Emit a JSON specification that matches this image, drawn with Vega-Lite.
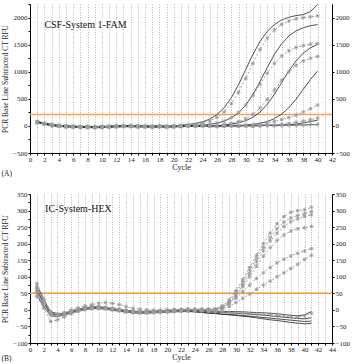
{
"$schema": "https://vega.github.io/schema/vega-lite/v6.json",
"padding": {"left": 1, "top": 0, "right": 0, "bottom": 0},
"spacing": 12,
"config": {
  "font": "Liberation Serif",
  "view": {"stroke": null},
  "axis": {"labelFont": "Liberation Serif", "titleFont": "Liberation Serif", "labelFontSize": 7, "titleFontSize": 8, "titleFontWeight": "normal", "labelColor": "#222", "titleColor": "#222", "domainColor": "#000", "tickColor": "#000", "tickSize": 2, "labelPadding": 1, "gridColor": "#9a9a9a", "gridDash": [1, 1.5], "gridWidth": 0.7, "labelOverlap": false, "labelFlush": false},
  "axisX": {"labelPadding": 0, "titlePadding": 1}
},
"datasets": {
"A": [
{"c":1,"a1":80,"a2":65,"a3":75,"a4":70,"a5":60,"a6":85,"a7":65,"a8":75,"a9":60,"a10":70,"a11":78,"a12":67},
{"c":2,"a1":50,"a2":35,"a3":45,"a4":40,"a5":30,"a6":55,"a7":35,"a8":45,"a9":30,"a10":40,"a11":48,"a12":37},
{"c":3,"a1":25,"a2":10,"a3":20,"a4":15,"a5":5,"a6":30,"a7":10,"a8":20,"a9":5,"a10":15,"a11":23,"a12":12},
{"c":4,"a1":10,"a2":-5,"a3":5,"a4":0,"a5":-10,"a6":15,"a7":-5,"a8":5,"a9":-10,"a10":0,"a11":8,"a12":-3},
{"c":5,"a1":0,"a2":-15,"a3":-5,"a4":-10,"a5":-20,"a6":5,"a7":-15,"a8":-5,"a9":-20,"a10":-10,"a11":-2,"a12":-13},
{"c":6,"a1":-5,"a2":-20,"a3":-10,"a4":-15,"a5":-25,"a6":0,"a7":-20,"a8":-10,"a9":-25,"a10":-15,"a11":-7,"a12":-18},
{"c":7,"a1":-10,"a2":-25,"a3":-15,"a4":-20,"a5":-30,"a6":-5,"a7":-25,"a8":-15,"a9":-30,"a10":-20,"a11":-12,"a12":-23},
{"c":8,"a1":-10,"a2":-25,"a3":-15,"a4":-20,"a5":-30,"a6":-5,"a7":-25,"a8":-15,"a9":-30,"a10":-20,"a11":-12,"a12":-23},
{"c":9,"a1":-15,"a2":-30,"a3":-20,"a4":-25,"a5":-35,"a6":-10,"a7":-30,"a8":-20,"a9":-35,"a10":-25,"a11":-17,"a12":-28},
{"c":10,"a1":-10,"a2":-25,"a3":-15,"a4":-20,"a5":-30,"a6":-5,"a7":-25,"a8":-15,"a9":-30,"a10":-20,"a11":-12,"a12":-23},
{"c":11,"a1":-5,"a2":-20,"a3":-10,"a4":-15,"a5":-25,"a6":0,"a7":-20,"a8":-10,"a9":-25,"a10":-15,"a11":-7,"a12":-18},
{"c":12,"a1":0,"a2":-15,"a3":-5,"a4":-10,"a5":-20,"a6":5,"a7":-15,"a8":-5,"a9":-20,"a10":-10,"a11":-2,"a12":-13},
{"c":13,"a1":5,"a2":-10,"a3":0,"a4":-5,"a5":-15,"a6":10,"a7":-10,"a8":0,"a9":-15,"a10":-5,"a11":3,"a12":-8},
{"c":14,"a1":5,"a2":-10,"a3":0,"a4":-5,"a5":-15,"a6":10,"a7":-10,"a8":0,"a9":-15,"a10":-5,"a11":3,"a12":-8},
{"c":15,"a1":0,"a2":-15,"a3":-5,"a4":-10,"a5":-20,"a6":5,"a7":-15,"a8":-5,"a9":-20,"a10":-10,"a11":-2,"a12":-13},
{"c":16,"a1":0,"a2":-15,"a3":-5,"a4":-10,"a5":-20,"a6":5,"a7":-15,"a8":-5,"a9":-20,"a10":-10,"a11":-2,"a12":-13},
{"c":17,"a1":-5,"a2":-20,"a3":-10,"a4":-15,"a5":-25,"a6":0,"a7":-20,"a8":-10,"a9":-25,"a10":-15,"a11":-7,"a12":-18},
{"c":18,"a1":0,"a2":-15,"a3":-5,"a4":-10,"a5":-20,"a6":5,"a7":-15,"a8":-5,"a9":-20,"a10":-10,"a11":-2,"a12":-13},
{"c":19,"a1":-5,"a2":-20,"a3":-10,"a4":-15,"a5":-25,"a6":0,"a7":-20,"a8":-10,"a9":-25,"a10":-15,"a11":-7,"a12":-18},
{"c":20,"a1":0,"a2":-15,"a3":-5,"a4":-10,"a5":-20,"a6":5,"a7":-15,"a8":-5,"a9":-20,"a10":-10,"a11":-2,"a12":-13},
{"c":21,"a1":15,"a2":-5,"a3":0,"a4":-5,"a5":-15,"a6":10,"a7":-10,"a8":0,"a9":-15,"a10":-5,"a11":3,"a12":-8},
{"c":22,"a1":25,"a2":18,"a3":5,"a4":0,"a5":-10,"a6":15,"a7":-5,"a8":5,"a9":-10,"a10":0,"a11":8,"a12":-3},
{"c":23,"a1":44,"a2":32,"a3":5,"a4":0,"a5":-10,"a6":15,"a7":-5,"a8":5,"a9":-10,"a10":0,"a11":8,"a12":-3},
{"c":24,"a1":75,"a2":55,"a3":17,"a4":18,"a5":-5,"a6":20,"a7":0,"a8":10,"a9":-5,"a10":5,"a11":13,"a12":2},
{"c":25,"a1":125,"a2":93,"a3":30,"a4":32,"a5":-10,"a6":15,"a7":-5,"a8":5,"a9":-10,"a10":0,"a11":8,"a12":-3},
{"c":26,"a1":208,"a2":158,"a3":51,"a4":55,"a5":-15,"a6":16,"a7":-10,"a8":0,"a9":-15,"a10":-5,"a11":3,"a12":-8},
{"c":27,"a1":335,"a2":258,"a3":87,"a4":92,"a5":19,"a6":28,"a7":-5,"a8":5,"a9":-10,"a10":0,"a11":8,"a12":-3},
{"c":28,"a1":520,"a2":410,"a3":148,"a4":154,"a5":34,"a6":48,"a7":0,"a8":10,"a9":-5,"a10":5,"a11":13,"a12":2},
{"c":29,"a1":761,"a2":619,"a3":241,"a4":248,"a5":58,"a6":80,"a7":-5,"a8":10,"a9":-10,"a10":0,"a11":8,"a12":-3},
{"c":30,"a1":1040,"a2":877,"a3":384,"a4":385,"a5":96,"a6":133,"a7":16,"a8":15,"a9":-5,"a10":5,"a11":13,"a12":2},
{"c":31,"a1":1319,"a2":1153,"a3":580,"a4":564,"a5":160,"a6":214,"a7":28,"a8":25,"a9":-10,"a10":0,"a11":8,"a12":-3},
{"c":32,"a1":1560,"a2":1411,"a3":821,"a4":770,"a5":258,"a6":333,"a7":49,"a8":40,"a9":5,"a10":5,"a11":13,"a12":2},
{"c":33,"a1":1745,"a2":1620,"a3":1079,"a4":976,"a5":400,"a6":487,"a7":81,"a8":60,"a9":10,"a10":10,"a11":18,"a12":7},
{"c":34,"a1":1872,"a2":1772,"a3":1321,"a4":1155,"a5":586,"a6":665,"a7":135,"a8":85,"a9":20,"a10":5,"a11":13,"a12":2},
{"c":35,"a1":1955,"a2":1872,"a3":1516,"a4":1292,"a5":800,"a6":843,"a7":217,"a8":115,"a9":30,"a10":10,"a11":18,"a12":7},
{"c":36,"a1":2005,"a2":1937,"a3":1659,"a4":1386,"a5":1014,"a6":998,"a7":338,"a8":155,"a9":45,"a10":20,"a11":13,"a12":12},
{"c":37,"a1":2036,"a2":1975,"a3":1752,"a4":1448,"a5":1200,"a6":1116,"a7":494,"a8":200,"a9":65,"a10":35,"a11":18,"a12":12},
{"c":38,"a1":2055,"a2":1998,"a3":1813,"a4":1485,"a5":1342,"a6":1197,"a7":675,"a8":255,"a9":90,"a10":55,"a11":18,"a12":17},
{"c":39,"a1":2110,"a2":2012,"a3":1849,"a4":1508,"a5":1440,"a6":1250,"a7":856,"a8":315,"a9":115,"a10":80,"a11":23,"a12":22},
{"c":40,"a1":2240,"a2":2030,"a3":1870,"a4":1522,"a5":1504,"a6":1282,"a7":1013,"a8":385,"a9":145,"a10":105,"a11":23,"a12":27}
],
"B": [
{"c":1,"b1":80,"b2":70,"b3":50,"b4":60,"b5":40,"b6":65,"b7":55,"s1":75,"s2":62,"s3":45,"s4":58},
{"c":2,"b1":35,"b2":28,"b3":12,"b4":20,"b5":5,"b6":25,"b7":15,"s1":30,"s2":22,"s3":10,"s4":18},
{"c":3,"b1":-5,"b2":-8,"b3":-15,"b4":-10,"b5":-35,"b6":-8,"b7":-12,"s1":-5,"s2":-10,"s3":-18,"s4":-12},
{"c":4,"b1":-12,"b2":-14,"b3":-18,"b4":-15,"b5":-30,"b6":-12,"b7":-16,"s1":-12,"s2":-14,"s3":-20,"s4":-16},
{"c":5,"b1":-10,"b2":-11,"b3":-15,"b4":-12,"b5":-22,"b6":-8,"b7":-13,"s1":-10,"s2":-12,"s3":-16,"s4":-13},
{"c":6,"b1":-3,"b2":-4,"b3":-8,"b4":-5,"b5":-12,"b6":0,"b7":-6,"s1":-4,"s2":-5,"s3":-9,"s4":-6},
{"c":7,"b1":2,"b2":1,"b3":-3,"b4":0,"b5":-5,"b6":6,"b7":-1,"s1":1,"s2":0,"s3":-4,"s4":-1},
{"c":8,"b1":7,"b2":6,"b3":2,"b4":5,"b5":0,"b6":12,"b7":4,"s1":6,"s2":5,"s3":1,"s4":4},
{"c":9,"b1":10,"b2":9,"b3":5,"b4":8,"b5":3,"b6":16,"b7":7,"s1":9,"s2":8,"s3":4,"s4":7},
{"c":10,"b1":10,"b2":9,"b3":5,"b4":8,"b5":4,"b6":20,"b7":7,"s1":9,"s2":8,"s3":4,"s4":7},
{"c":11,"b1":8,"b2":7,"b3":3,"b4":6,"b5":3,"b6":22,"b7":5,"s1":7,"s2":6,"s3":2,"s4":5},
{"c":12,"b1":5,"b2":4,"b3":0,"b4":3,"b5":0,"b6":20,"b7":2,"s1":4,"s2":3,"s3":-1,"s4":2},
{"c":13,"b1":2,"b2":1,"b3":-3,"b4":0,"b5":-3,"b6":16,"b7":-1,"s1":1,"s2":0,"s3":-4,"s4":-1},
{"c":14,"b1":-1,"b2":-2,"b3":-6,"b4":-3,"b5":-6,"b6":10,"b7":-4,"s1":-2,"s2":-3,"s3":-7,"s4":-4},
{"c":15,"b1":-3,"b2":-4,"b3":-8,"b4":-5,"b5":-8,"b6":5,"b7":-6,"s1":-4,"s2":-5,"s3":-9,"s4":-6},
{"c":16,"b1":-4,"b2":-5,"b3":-9,"b4":-6,"b5":-9,"b6":2,"b7":-7,"s1":-5,"s2":-6,"s3":-10,"s4":-7},
{"c":17,"b1":-4,"b2":-5,"b3":-9,"b4":-6,"b5":-9,"b6":0,"b7":-7,"s1":-5,"s2":-6,"s3":-10,"s4":-7},
{"c":18,"b1":-3,"b2":-4,"b3":-8,"b4":-5,"b5":-8,"b6":-1,"b7":-6,"s1":-4,"s2":-5,"s3":-9,"s4":-6},
{"c":19,"b1":-2,"b2":-3,"b3":-7,"b4":-4,"b5":-7,"b6":-1,"b7":-5,"s1":-3,"s2":-4,"s3":-8,"s4":-5},
{"c":20,"b1":-1,"b2":-2,"b3":-6,"b4":-3,"b5":-6,"b6":0,"b7":-4,"s1":-2,"s2":-3,"s3":-7,"s4":-4},
{"c":21,"b1":0,"b2":-1,"b3":-5,"b4":-2,"b5":-5,"b6":0,"b7":-3,"s1":-1,"s2":-2,"s3":-6,"s4":-3},
{"c":22,"b1":1,"b2":0,"b3":-4,"b4":-1,"b5":-4,"b6":1,"b7":-2,"s1":0,"s2":-1,"s3":-5,"s4":-3},
{"c":23,"b1":2,"b2":1,"b3":-3,"b4":0,"b5":-3,"b6":1,"b7":-2,"s1":0,"s2":-2,"s3":-5,"s4":-4},
{"c":24,"b1":2,"b2":1,"b3":-2,"b4":0,"b5":-2,"b6":1,"b7":-3,"s1":-1,"s2":-3,"s3":-6,"s4":-5},
{"c":25,"b1":2,"b2":1,"b3":-1,"b4":0,"b5":-1,"b6":1,"b7":-4,"s1":-2,"s2":-4,"s3":-8,"s4":-7},
{"c":26,"b1":2,"b2":1,"b3":0,"b4":0,"b5":0,"b6":1,"b7":-5,"s1":-3,"s2":-6,"s3":-10,"s4":-9},
{"c":27,"b1":3,"b2":2,"b3":2,"b4":1,"b5":0,"b6":0,"b7":-6,"s1":-4,"s2":-7,"s3":-11,"s4":-11},
{"c":28,"b1":12,"b2":10,"b3":8,"b4":7,"b5":5,"b6":3,"b7":-7,"s1":-4,"s2":-8,"s3":-13,"s4":-13},
{"c":29,"b1":30,"b2":26,"b3":22,"b4":20,"b5":18,"b6":10,"b7":-8,"s1":-5,"s2":-9,"s3":-14,"s4":-15},
{"c":30,"b1":58,"b2":52,"b3":45,"b4":42,"b5":35,"b6":22,"b7":-9,"s1":-5,"s2":-10,"s3":-15,"s4":-17},
{"c":31,"b1":92,"b2":85,"b3":76,"b4":70,"b5":55,"b6":35,"b7":-10,"s1":-6,"s2":-11,"s3":-17,"s4":-19},
{"c":32,"b1":128,"b2":120,"b3":110,"b4":100,"b5":75,"b6":48,"b7":-11,"s1":-7,"s2":-13,"s3":-19,"s4":-21},
{"c":33,"b1":165,"b2":155,"b3":145,"b4":132,"b5":95,"b6":62,"b7":-12,"s1":-8,"s2":-14,"s3":-21,"s4":-24},
{"c":34,"b1":200,"b2":188,"b3":178,"b4":162,"b5":112,"b6":75,"b7":-14,"s1":-9,"s2":-16,"s3":-23,"s4":-27},
{"c":35,"b1":232,"b2":218,"b3":208,"b4":188,"b5":128,"b6":87,"b7":-15,"s1":-10,"s2":-18,"s3":-25,"s4":-30},
{"c":36,"b1":260,"b2":245,"b3":232,"b4":210,"b5":142,"b6":100,"b7":-17,"s1":-12,"s2":-20,"s3":-27,"s4":-32},
{"c":37,"b1":282,"b2":265,"b3":252,"b4":226,"b5":153,"b6":112,"b7":-19,"s1":-14,"s2":-22,"s3":-29,"s4":-35},
{"c":38,"b1":295,"b2":278,"b3":266,"b4":238,"b5":163,"b6":125,"b7":-21,"s1":-16,"s2":-24,"s3":-31,"s4":-38},
{"c":39,"b1":300,"b2":285,"b3":275,"b4":245,"b5":171,"b6":138,"b7":-22,"s1":-18,"s2":-26,"s3":-33,"s4":-40},
{"c":40,"b1":302,"b2":290,"b3":282,"b4":248,"b5":178,"b6":152,"b7":-18,"s1":-15,"s2":-27,"s3":-35,"s4":-42},
{"c":41,"b1":310,"b2":297,"b3":287,"b4":252,"b5":185,"b6":165,"b7":-10,"s1":-5,"s2":-24,"s3":-34,"s4":-41}
]
},
"vconcat": [
{
  "width": 302, "height": 149,
  "title": {"text": "(A)", "orient": "bottom", "anchor": "start", "frame": "bounds", "offset": -1, "fontSize": 7.5, "fontWeight": "normal", "font": "Liberation Serif", "color": "#222"},
  "resolve": {"axis": {"y": "independent"}},
  "layer": [
    {"data": {"values": [{}]},
     "mark": {"type": "rule", "color": "#f7a552", "strokeWidth": 1.5},
     "encoding": {"y": {"datum": 210, "type": "quantitative", "scale": {"domain": [-500, 2250], "nice": false, "zero": false},
       "axis": {"orient": "right", "title": null, "grid": false, "values": [-500, 0, 500, 1000, 1500, 2000], "format": "d"}}}},
    {"data": {"name": "A"},
     "transform": [{"fold": ["a1", "a3", "a5", "a7", "a10", "a11"], "as": ["k", "v"]}],
     "mark": {"type": "line", "color": "#222", "strokeWidth": 0.8},
     "encoding": {
       "x": {"field": "c", "type": "quantitative", "scale": {"domain": [0, 42], "nice": false},
         "axis": {"title": "Cycle", "values": [0,1,2,3,4,5,6,7,8,9,10,11,12,13,14,15,16,17,18,19,20,21,22,23,24,25,26,27,28,29,30,31,32,33,34,35,36,37,38,39,40,41,42], "labelExpr": "datum.value % 2 == 0 ? datum.label : ''"}},
       "y": {"field": "v", "type": "quantitative",
         "axis": {"orient": "left", "title": "PCR Base Line Subtracted CT RFU", "titleFontSize": 7.5, "titlePadding": 3, "format": "d", "values": [-500,-250,0,250,500,750,1000,1250,1500,1750,2000,2250], "labelExpr": "datum.value % 500 == 0 ? datum.label : ''"}},
       "detail": {"field": "k"}}},
    {"data": {"name": "A"},
     "transform": [{"fold": ["a2", "a4", "a6", "a8", "a9", "a12"], "as": ["k", "v"]}],
     "mark": {"type": "line", "color": "#8a8a8a", "strokeWidth": 0.8, "strokeDash": [2, 2]},
     "encoding": {
       "x": {"field": "c", "type": "quantitative", "scale": {"domain": [0, 42], "nice": false},
         "axis": {"title": "Cycle", "values": [0,1,2,3,4,5,6,7,8,9,10,11,12,13,14,15,16,17,18,19,20,21,22,23,24,25,26,27,28,29,30,31,32,33,34,35,36,37,38,39,40,41,42], "labelExpr": "datum.value % 2 == 0 ? datum.label : ''"}},
       "y": {"field": "v", "type": "quantitative", "axis": null},
       "detail": {"field": "k"}}},
    {"data": {"name": "A"},
     "transform": [{"fold": ["a2", "a4", "a6", "a8", "a9", "a12"], "as": ["k", "v"]}],
     "mark": {"type": "point", "shape": "M-1,-1L1,1M-1,1L1,-1M0,-1.3L0,1.3M-1.3,0L1.3,0", "filled": false, "color": "#9a9a9a", "strokeWidth": 0.8, "size": 9, "opacity": 1},
     "encoding": {
       "x": {"field": "c", "type": "quantitative", "scale": {"domain": [0, 42], "nice": false},
         "axis": {"title": "Cycle", "values": [0,1,2,3,4,5,6,7,8,9,10,11,12,13,14,15,16,17,18,19,20,21,22,23,24,25,26,27,28,29,30,31,32,33,34,35,36,37,38,39,40,41,42], "labelExpr": "datum.value % 2 == 0 ? datum.label : ''"}},
       "y": {"field": "v", "type": "quantitative", "axis": null}}},
    {"data": {"values": [{}]},
     "mark": {"type": "text", "text": "CSF-System 1-FAM", "align": "left", "baseline": "middle", "fontSize": 10, "font": "Liberation Serif", "color": "#111"},
     "encoding": {"x": {"datum": 2, "type": "quantitative", "scale": {"domain": [0, 42], "nice": false},
         "axis": {"title": "Cycle", "values": [0,1,2,3,4,5,6,7,8,9,10,11,12,13,14,15,16,17,18,19,20,21,22,23,24,25,26,27,28,29,30,31,32,33,34,35,36,37,38,39,40,41,42], "labelExpr": "datum.value % 2 == 0 ? datum.label : ''"}},
       "y": {"datum": 1870, "type": "quantitative", "axis": null}}}
  ]
},
{
  "width": 302, "height": 149,
  "title": {"text": "(B)", "orient": "bottom", "anchor": "start", "frame": "bounds", "offset": -6, "fontSize": 7.5, "fontWeight": "normal", "font": "Liberation Serif", "color": "#222"},
  "resolve": {"axis": {"y": "independent"}},
  "layer": [
    {"data": {"values": [{}]},
     "mark": {"type": "rule", "color": "#f39c34", "strokeWidth": 1.5},
     "encoding": {"y": {"datum": 50, "type": "quantitative", "scale": {"domain": [-100, 350], "nice": false, "zero": false},
       "axis": {"orient": "right", "title": null, "grid": false, "values": [-100, -50, 0, 50, 100, 150, 200, 250, 300, 350], "format": "d"}}}},
    {"data": {"name": "B"},
     "transform": [{"fold": ["s1", "s2", "s3", "s4"], "as": ["k", "v"]}],
     "mark": {"type": "line", "color": "#222", "strokeWidth": 0.8},
     "encoding": {
       "x": {"field": "c", "type": "quantitative", "scale": {"domain": [0, 44], "nice": false},
         "axis": {"title": "Cycle", "values": [0,1,2,3,4,5,6,7,8,9,10,11,12,13,14,15,16,17,18,19,20,21,22,23,24,25,26,27,28,29,30,31,32,33,34,35,36,37,38,39,40,41,42,43,44], "labelExpr": "datum.value % 2 == 0 ? datum.label : ''"}},
       "y": {"field": "v", "type": "quantitative",
         "axis": {"orient": "left", "title": "PCR Base Line Subtracted CT RFU", "titleFontSize": 7.5, "titlePadding": 3, "format": "d", "values": [-100,-75,-50,-25,0,25,50,75,100,125,150,175,200,225,250,275,300,325,350], "labelExpr": "datum.value % 50 == 0 ? datum.label : ''"}},
       "detail": {"field": "k"}}},
    {"data": {"name": "B"},
     "transform": [{"fold": ["b1", "b2", "b3", "b4", "b5", "b6", "b7"], "as": ["k", "v"]}],
     "mark": {"type": "line", "color": "#8a8a8a", "strokeWidth": 0.8, "strokeDash": [2, 2]},
     "encoding": {
       "x": {"field": "c", "type": "quantitative", "scale": {"domain": [0, 44], "nice": false},
         "axis": {"title": "Cycle", "values": [0,1,2,3,4,5,6,7,8,9,10,11,12,13,14,15,16,17,18,19,20,21,22,23,24,25,26,27,28,29,30,31,32,33,34,35,36,37,38,39,40,41,42,43,44], "labelExpr": "datum.value % 2 == 0 ? datum.label : ''"}},
       "y": {"field": "v", "type": "quantitative", "axis": null},
       "detail": {"field": "k"}}},
    {"data": {"name": "B"},
     "transform": [{"fold": ["b1", "b2", "b3", "b4", "b5", "b6", "b7"], "as": ["k", "v"]}],
     "mark": {"type": "point", "shape": "M-1,-1L1,1M-1,1L1,-1M0,-1.3L0,1.3M-1.3,0L1.3,0", "filled": false, "color": "#9a9a9a", "strokeWidth": 0.8, "size": 9, "opacity": 1},
     "encoding": {
       "x": {"field": "c", "type": "quantitative", "scale": {"domain": [0, 44], "nice": false},
         "axis": {"title": "Cycle", "values": [0,1,2,3,4,5,6,7,8,9,10,11,12,13,14,15,16,17,18,19,20,21,22,23,24,25,26,27,28,29,30,31,32,33,34,35,36,37,38,39,40,41,42,43,44], "labelExpr": "datum.value % 2 == 0 ? datum.label : ''"}},
       "y": {"field": "v", "type": "quantitative", "axis": null}}},
    {"data": {"values": [{}]},
     "mark": {"type": "text", "text": "IC-System-HEX", "align": "left", "baseline": "middle", "fontSize": 10, "font": "Liberation Serif", "color": "#111"},
     "encoding": {"x": {"datum": 2.2, "type": "quantitative", "scale": {"domain": [0, 44], "nice": false},
         "axis": {"title": "Cycle", "values": [0,1,2,3,4,5,6,7,8,9,10,11,12,13,14,15,16,17,18,19,20,21,22,23,24,25,26,27,28,29,30,31,32,33,34,35,36,37,38,39,40,41,42,43,44], "labelExpr": "datum.value % 2 == 0 ? datum.label : ''"}},
       "y": {"datum": 305, "type": "quantitative", "axis": null}}}
  ]
}
]
}
